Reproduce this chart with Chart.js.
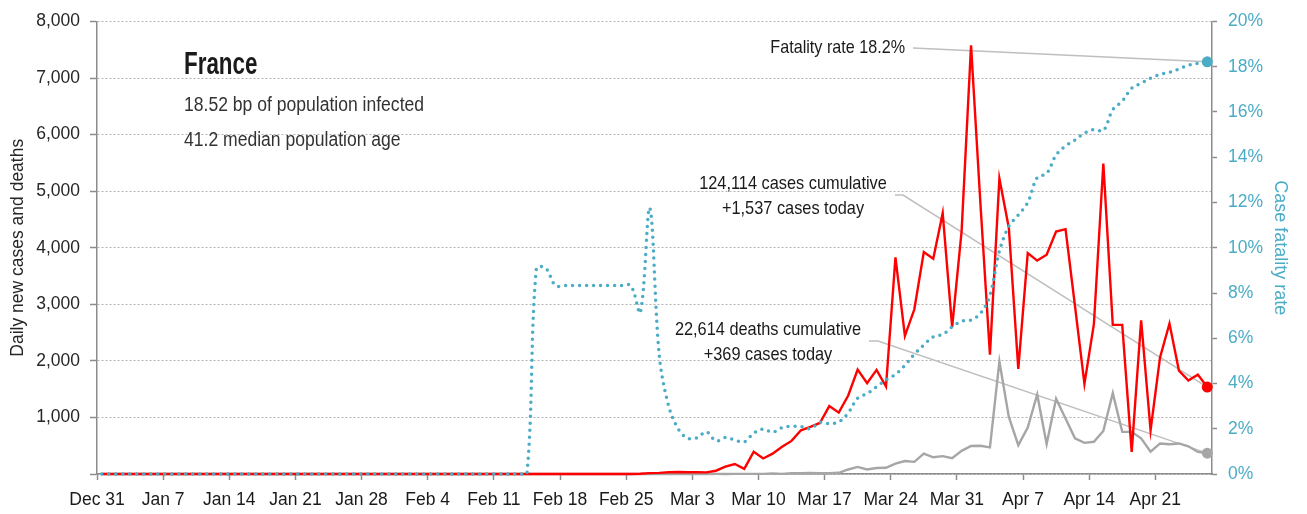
<!DOCTYPE html>
<html>
<head>
<meta charset="utf-8">
<script src="https://cdn.jsdelivr.net/npm/chart.js@4/dist/chart.umd.min.js"></script>
<style>
  html, body { margin: 0; padding: 0; background: #fff; }
</style>
</head>
<body>
<canvas id="chart" width="1307" height="514"></canvas>
<script>
// x axis: one slot per day from Dec 31 to Apr 26, a tick every 7 days
const tickLabels = ['Dec 31', 'Jan 7', 'Jan 14', 'Jan 21', 'Jan 28', 'Feb 4', 'Feb 11', 'Feb 18',
    'Feb 25', 'Mar 3', 'Mar 10', 'Mar 17', 'Mar 24', 'Mar 31', 'Apr 7', 'Apr 14', 'Apr 21'];
const dayCount = 118;

// daily new cases (Dec 31 .. Apr 26)
const newCases = [
    0, 0, 0, 0, 0, 0, 0, 0, 0, 0, 0, 0, 0, 0, 0, 0, 0, 0, 0, 0,
    0, 0, 0, 0, 0, 0, 0, 0, 0, 0, 0, 0, 0, 0, 0, 0, 0, 0, 0, 0,
    0, 0, 0, 0, 0, 0, 0, 0, 0, 0, 0, 0, 0, 0, 0, 0, 0, 5, 15, 20,
    30, 35, 30, 30, 28, 58, 129, 176, 92, 395, 275, 360, 480, 585, 773, 832, 902, 1201, 1085, 1388,
    1845, 1605, 1840, 1547, 3831, 2443, 2912, 3924, 3807, 4612, 2595, 4290, 7578, 4760, 2110, 5225, 4350, 1857, 3907, 3773,
    3878, 4288, 4329, 2970, 1593, 2648, 5489, 2636, 2636, 392, 2718, 773, 2062, 2660, 1828, 1652, 1757, 1537
];

// daily new deaths
const newDeaths = [
    0, 0, 0, 0, 0, 0, 0, 0, 0, 0, 0, 0, 0, 0, 0, 0, 0, 0, 0, 0,
    0, 0, 0, 0, 0, 0, 0, 0, 0, 0, 0, 0, 0, 0, 0, 0, 0, 0, 0, 0,
    0, 0, 0, 0, 0, 0, 1, 0, 0, 0, 0, 0, 0, 0, 0, 0, 0, 0, 1, 0,
    0, 0, 0, 1, 1, 2, 0, 3, 2, 2, 3, 11, 3, 15, 13, 18, 12, 12, 21, 80,
    125, 80, 105, 110, 185, 230, 215, 360, 295, 315, 280, 410, 495, 500, 470, 1990, 1010, 510, 820, 1405,
    530, 1330, 980, 630, 550, 570, 760, 1430, 745, 745, 630, 395, 540, 525, 540, 490, 390, 369
];

// case fatality rate, %
const fatalityRate = [
    0, 0, 0, 0, 0, 0, 0, 0, 0, 0, 0, 0, 0, 0, 0, 0, 0, 0, 0, 0,
    0, 0, 0, 0, 0, 0, 0, 0, 0, 0, 0, 0, 0, 0, 0, 0, 0, 0, 0, 0,
    0, 0, 0, 0, 0, 0, 9.09, 9.09, 8.33, 8.33, 8.33, 8.33, 8.33, 8.33, 8.33, 8.33, 8.33, 7.14, 11.76, 5.26,
    3.0, 2.0, 1.58, 1.6, 1.86, 1.46, 1.61, 1.5, 1.42, 1.8, 1.99, 1.85, 2.05, 2.11, 2.1, 2.0, 2.28, 2.23, 2.3, 2.7,
    3.35, 3.55, 3.85, 4.16, 4.4, 4.8, 5.3, 5.7, 6.06, 6.17, 6.5, 6.75, 6.8, 7.1, 7.9, 9.85, 10.95, 11.45, 12.0, 13.1,
    13.28, 14.1, 14.5, 14.76, 15.07, 15.22, 15.18, 16.1, 16.48, 17.05, 17.27, 17.5, 17.66, 17.76, 17.9, 18.07, 18.15, 18.22
];

const FONT = "'Liberation Sans', Arial, sans-serif";
const RED = '#ff0000';
const GREY = '#a6a6a6';
const TEAL = '#4bacc6';
const last = dayCount - 1;

// each day sits in the middle of its slot
const toPoints = (arr) => arr.map((v, i) => ({ x: i + 0.5, y: v }));
const lastOnly = (r) => (ctx) => (ctx.dataIndex === last ? r : 0);

// narrow text, the original uses a condensed face
function narrowText(ctx, text, x, y, squeeze) {
    ctx.save();
    ctx.translate(x, y);
    ctx.scale(squeeze, 1);
    ctx.fillText(text, 0, 0);
    ctx.restore();
}

// callout texts and leader lines
const notes = {
    id: 'notes',
    beforeDatasetsDraw(chart) {
        const { ctx, scales: { x, y, y1 } } = chart;
        const px = x.getPixelForValue(last + 0.5);
        const lines = [
            [[913, 48], [px, y1.getPixelForValue(fatalityRate[last])]],
            [[895, 195], [903, 195], [px, y.getPixelForValue(newCases[last])]],
            [[869, 341], [878, 341], [px, y.getPixelForValue(newDeaths[last])]],
        ];
        ctx.save();
        ctx.strokeStyle = '#bfbfbf';
        ctx.lineWidth = 1.5;
        lines.forEach((pts) => {
            ctx.beginPath();
            pts.forEach(([a, b], i) => (i ? ctx.lineTo(a, b) : ctx.moveTo(a, b)));
            ctx.stroke();
        });
        ctx.restore();
    },
    afterDraw(chart) {
        const { ctx } = chart;
        ctx.save();
        ctx.fillStyle = '#1a1a1a';
        ctx.textBaseline = 'alphabetic';
        ctx.textAlign = 'left';
        ctx.font = 'bold 32px ' + FONT;
        narrowText(ctx, 'France', 184, 74, 0.7);
        ctx.fillStyle = '#333';
        ctx.font = '19.5px ' + FONT;
        narrowText(ctx, '18.52 bp of population infected', 184, 111, 0.9);
        narrowText(ctx, '41.2 median population age', 184, 146, 0.9);

        ctx.fillStyle = '#1a1a1a';
        ctx.font = '19px ' + FONT;
        ctx.textBaseline = 'middle';
        ctx.textAlign = 'right';
        narrowText(ctx, 'Fatality rate 18.2%', 905, 48, 0.85);
        ctx.textAlign = 'center';
        narrowText(ctx, '124,114 cases cumulative', 793, 184, 0.86);
        narrowText(ctx, '+1,537 cases today', 793, 209, 0.86);
        narrowText(ctx, '22,614 deaths cumulative', 768, 330, 0.86);
        narrowText(ctx, '+369 cases today', 768, 355, 0.86);
        ctx.restore();
    }
};

new Chart(document.getElementById('chart'), {
    type: 'line',
    data: {
        datasets: [
            {
                label: 'Case fatality rate',
                data: toPoints(fatalityRate),
                yAxisID: 'y1',
                borderColor: TEAL,
                backgroundColor: TEAL,
                borderWidth: 3.5,
                borderDash: [0, 7],
                borderCapStyle: 'round',
                tension: 0.35,
                pointRadius: lastOnly(5.5),
                pointBorderWidth: 0,
                pointBackgroundColor: TEAL,
                clip: 8,
            },
            {
                label: 'Daily new cases',
                data: toPoints(newCases),
                yAxisID: 'y',
                borderColor: RED,
                backgroundColor: RED,
                borderWidth: 2.4,
                tension: 0,
                pointRadius: lastOnly(5.5),
                pointBorderWidth: 0,
                pointBackgroundColor: RED,
                clip: 8,
            },
            {
                label: 'Daily new deaths',
                data: toPoints(newDeaths),
                yAxisID: 'y',
                borderColor: GREY,
                backgroundColor: GREY,
                borderWidth: 2.4,
                tension: 0,
                pointRadius: lastOnly(5.5),
                pointBorderWidth: 0,
                pointBackgroundColor: GREY,
                clip: 8,
            },
        ],
    },
    options: {
        responsive: false,
        animation: false,
        layout: { padding: { top: 19 } },
        plugins: { legend: { display: false }, tooltip: { enabled: false } },
        scales: {
            x: {
                type: 'linear',
                min: 0,
                max: dayCount,
                afterBuildTicks: (scale) => {
                    scale.ticks = tickLabels.map((l, i) => ({ value: i * 7 }));
                },
                afterFit: (scale) => { scale.height = 40; },
                grid: { drawOnChartArea: false, tickLength: 6, tickColor: '#8c8c8c', tickWidth: 1.5 },
                border: { color: '#8c8c8c', width: 1.5 },
                ticks: {
                    autoSkip: false,
                    maxRotation: 0,
                    padding: 10,
                    color: '#1a1a1a',
                    font: { family: FONT, size: 17.5 },
                    callback: (v, i) => tickLabels[i],
                },
            },
            y: {
                position: 'left',
                min: 0,
                max: 8000,
                afterFit: (scale) => { scale.width = 97; },
                grid: { color: '#b3b3b3', lineWidth: 1, tickLength: 7, tickColor: '#8c8c8c', tickWidth: 1.5 },
                border: { color: '#8c8c8c', width: 1.5, dash: [2, 2] },
                ticks: {
                    stepSize: 1000,
                    padding: 10,
                    color: '#262626',
                    font: { family: FONT, size: 17.5 },
                    callback: (v) => (v === 0 ? '' : v.toLocaleString('en-US')),
                },
                title: {
                    display: true,
                    text: 'Daily new cases and deaths',
                    color: '#262626',
                    font: { family: FONT, size: 17.5 },
                    padding: { top: 8, bottom: 0 },
                },
            },
            y1: {
                position: 'right',
                min: 0,
                max: 20,
                afterFit: (scale) => { scale.width = 95; },
                grid: { drawOnChartArea: false, tickLength: 5, tickColor: '#8c8c8c', tickWidth: 1.5 },
                border: { color: '#8c8c8c', width: 1.5 },
                ticks: {
                    stepSize: 2,
                    padding: 11,
                    color: TEAL,
                    font: { family: FONT, size: 17.5 },
                    callback: (v) => v + '%',
                },
                title: {
                    display: true,
                    text: 'Case fatality rate',
                    color: TEAL,
                    font: { family: FONT, size: 18 },
                    padding: { top: 16, bottom: 0 },
                },
            },
        },
    },
    plugins: [notes],
});
</script>
</body>
</html>
